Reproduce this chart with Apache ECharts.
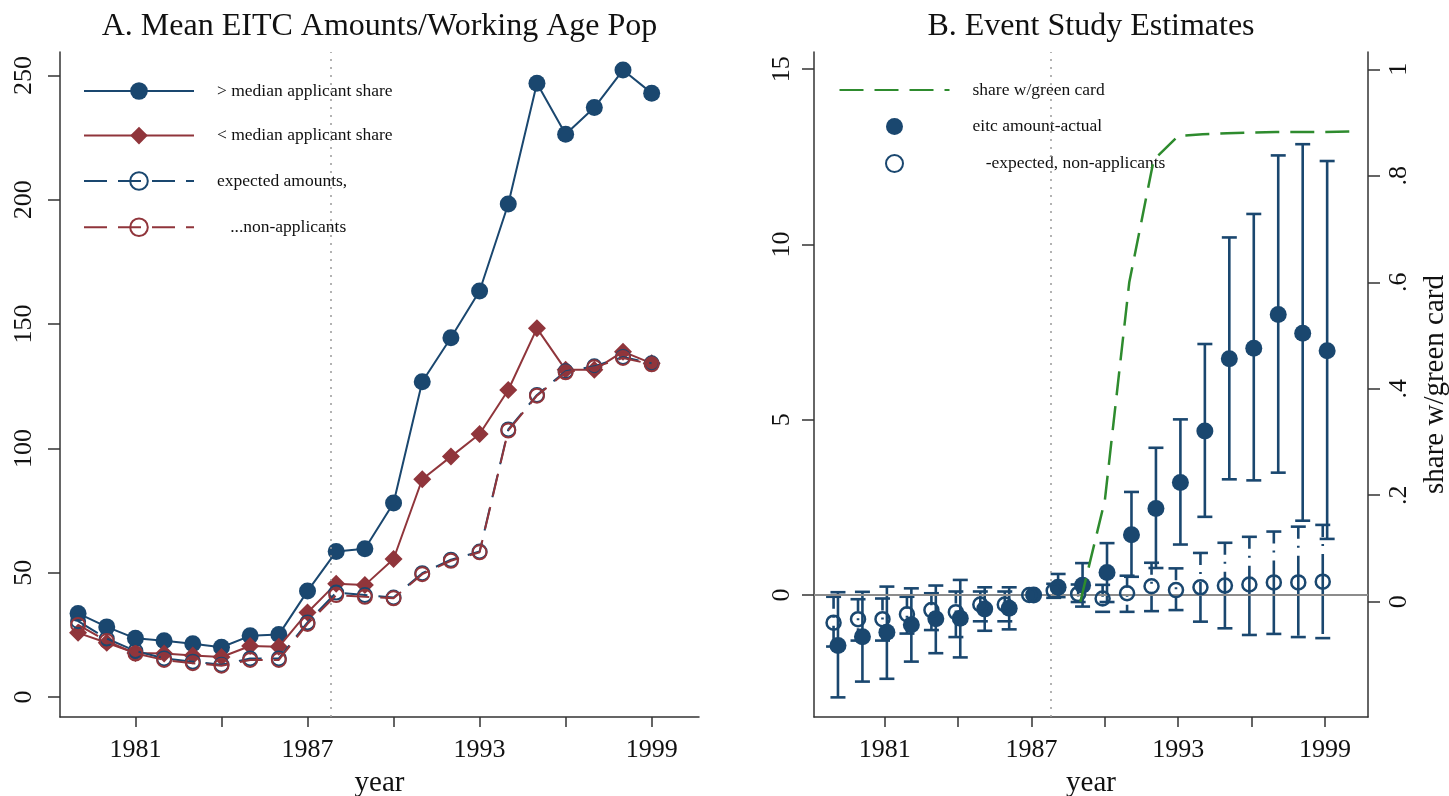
<!DOCTYPE html>
<html>
<head>
<meta charset="utf-8">
<script src="https://cdn.jsdelivr.net/npm/echarts@6/dist/echarts.min.js"></script>
<style>
html,body{margin:0;padding:0;background:#fff;}
#chart{width:1449px;height:796px;}
</style>
</head>
<body>
<div id="chart"></div>
<script>
// ---------- Data ----------
const years = [1979,1980,1981,1982,1983,1984,1985,1986,1987,1988,1989,1990,1991,1992,1993,1994,1995,1996,1997,1998,1999];

// Panel A
const aboveMedian   = [33.6,28.2,23.6,22.6,21.4,20.0,24.6,25.1,42.6,58.5,59.6,78.0,126.8,144.5,163.3,198.3,246.9,226.4,237.1,252.2,242.9];
const belowMedian   = [25.8,21.8,17.7,17.5,16.7,16.1,20.5,20.2,34.0,45.6,45.0,55.5,87.6,96.7,105.8,123.5,148.3,131.6,131.6,138.9,134.2];
const expectedAbove = [30.5,23.5,18.5,15.5,14.2,13.0,15.5,15.5,30.0,42.0,41.0,40.0,49.8,55.2,58.5,107.6,121.5,131.0,133.0,136.8,134.2];
const expectedBelow = [29.0,22.5,17.5,14.9,13.6,12.6,14.9,14.9,29.4,41.0,40.3,39.7,49.4,54.8,58.2,107.2,121.2,130.6,132.6,136.4,133.8];

// Panel B
const actual     = [-1.44,-1.19,-1.06,-0.85,-0.68,-0.66,-0.40,-0.38,0,0.22,0.28,0.64,1.72,2.47,3.21,4.68,6.74,7.04,8.00,7.47,6.97];
const actualLo   = [-2.92,-2.47,-2.39,-1.90,-1.66,-1.78,-1.02,-0.98,null,-0.06,-0.33,-0.20,0.52,0.77,1.44,2.23,3.30,3.27,3.49,2.12,1.60];
const actualHi   = [0.08,0.09,0.24,0.19,0.27,0.43,0.22,0.22,null,0.60,0.91,1.48,2.94,4.20,5.01,7.16,10.20,10.87,12.54,12.86,12.38];
const expectedNA   = [-0.79,-0.69,-0.69,-0.55,-0.43,-0.49,-0.27,-0.27,0,0.12,0.03,-0.10,0.05,0.25,0.14,0.22,0.27,0.30,0.36,0.36,0.38];
const expectedNALo = [-1.47,-1.30,-1.30,-1.10,-1.00,-1.20,-0.75,-0.75,null,-0.08,-0.20,-0.48,-0.48,-0.46,-0.43,-0.76,-0.95,-1.14,-1.11,-1.20,-1.23];
const expectedNAHi = [-0.05,-0.12,-0.10,-0.05,0.05,0.10,0.10,0.10,null,0.32,0.30,0.29,0.55,0.92,0.76,1.20,1.49,1.66,1.81,1.95,2.00];
const greenYears = [1989,1990,1991,1992,1993,1994,1995,1996,1997,1998,1999,2000];
const greenShare = [0.0,0.19,0.60,0.83,0.875,0.878,0.880,0.881,0.882,0.882,0.882,0.883];

const eventYear = 1987.8;

// Ticks / labels
const xTickValues = [1981,1984,1987,1990,1993,1996,1999];
const xTickLabels = [1981,1987,1993,1999];
const leftYTicks  = [0,50,100,150,200,250];
const rightYTicks = [0,5,10,15];
const shareTicks  = [0,0.2,0.4,0.6,0.8,1];
const shareTickLabels = ['0','.2','.4','.6','.8','1'];

// ---------- Style ----------
const NAVY = '#1a476f', MAROON = '#90353b', GREEN = '#2e8b2e';
const FONT = '"Liberation Serif", "Times New Roman", serif';
const AXIS = {color:'#333', width:1.5};

const pairs = (xs, ys, off) => xs.map((x,i) => [x + (off||0), ys[i]]);
const ciRows = (xs, lo, hi, off) => xs.map((x,i) => [x + off, lo[i], hi[i]]).filter(r => r[1] != null && r[2] != null);

function errorBars(color, dash) {
  return function (params, api) {
    const x = api.value(0), lo = api.value(1), hi = api.value(2);
    const top = api.coord([x, hi]);
    const bot = api.coord([x, lo]);
    const half = 7.5;
    const st = {stroke: color, lineWidth: 2.6, fill: null};
    return {type:'group', children:[
      {type:'line', shape:{x1:top[0], y1:top[1], x2:bot[0], y2:bot[1]}, style:Object.assign({lineDash: dash}, st)},
      {type:'line', shape:{x1:top[0]-half, y1:top[1], x2:top[0]+half, y2:top[1]}, style:st},
      {type:'line', shape:{x1:bot[0]-half, y1:bot[1], x2:bot[0]+half, y2:bot[1]}, style:st}
    ]};
  };
}

const xAxisBase = (grid, min, max) => ({
  gridIndex: grid, type:'value', min:min, max:max,
  axisLine:{show:true, onZero:false, lineStyle:AXIS},
  axisTick:{show:true, length:10, lineStyle:AXIS, customValues:xTickValues},
  axisLabel:{customValues:xTickLabels, formatter:v => String(v), fontFamily:FONT, fontSize:26, color:'#111', margin:20},
  splitLine:{show:false},
  name:'year', nameLocation:'middle', nameGap:52,
  nameTextStyle:{fontFamily:FONT, fontSize:29, color:'#111'}
});

const vLine = {
  silent:true, symbol:['none','none'], label:{show:false},
  lineStyle:{color:'#9a9a9a', type:[2,6], width:1.5},
  data:[{xAxis:eventYear}]
};

const option = {
  animation:false,
  backgroundColor:'#fff',
  title:[
    {text:'A. Mean EITC Amounts/Working Age Pop', left:379.5, top:11, textAlign:'center', padding:0,
     textStyle:{fontFamily:FONT, fontSize:32, fontWeight:'normal', color:'#111'}},
    {text:'B. Event Study Estimates', left:1091, top:11, textAlign:'center', padding:0,
     textStyle:{fontFamily:FONT, fontSize:32, fontWeight:'normal', color:'#111'}}
  ],
  legend:[
    {orient:'vertical', left:83, top:82, itemWidth:110, itemHeight:22, itemGap:26.6, selectedMode:false,
     padding:0,
     textStyle:{fontFamily:FONT, fontSize:17.5, color:'#111', padding:[0,0,0,18]},
     data:['> median applicant share','< median applicant share','expected amounts,','   ...non-applicants']},
    {orient:'vertical', left:838.5, top:81, itemWidth:110, itemHeight:17, itemGap:18.5, selectedMode:false,
     padding:0,
     textStyle:{fontFamily:FONT, fontSize:17.5, color:'#111', padding:[0,0,0,18]},
     data:[{name:'share w/green card', itemStyle:{opacity:0}}, 'eitc amount-actual', '   -expected, non-applicants']}
  ],
  grid:[
    {left:60, right:750, top:52, bottom:79, outerBoundsMode:'none', containLabel:false},
    {left:814, right:81, top:52, bottom:79, outerBoundsMode:'none', containLabel:false}
  ],
  xAxis:[ xAxisBase(0, 1978.37, 2000.65), xAxisBase(1, 1978.11, 2000.76) ],
  yAxis:[
    {gridIndex:0, type:'value', min:-8.05, max:259.45,
     axisLine:{show:true, onZero:false, lineStyle:AXIS},
     axisTick:{show:true, length:12, lineStyle:AXIS, customValues:leftYTicks},
     axisLabel:{customValues:leftYTicks, formatter:v => String(v), rotate:90, fontFamily:FONT, fontSize:26, color:'#111', margin:23},
     splitLine:{show:false}},
    {gridIndex:1, type:'value', min:-3.48, max:15.49,
     axisLine:{show:true, onZero:false, lineStyle:AXIS},
     axisTick:{show:true, length:12, lineStyle:AXIS, customValues:rightYTicks},
     axisLabel:{customValues:rightYTicks, formatter:v => String(v), rotate:90, fontFamily:FONT, fontSize:26, color:'#111', margin:19},
     splitLine:{show:false}},
    {gridIndex:1, type:'value', position:'right', min:-0.2166, max:1.0325,
     axisLine:{show:true, onZero:false, lineStyle:AXIS},
     axisTick:{show:true, length:12, lineStyle:AXIS, customValues:shareTicks},
     axisLabel:{customValues:shareTicks, rotate:90, fontFamily:FONT, fontSize:26, color:'#111', margin:18,
       formatter:v => { const i = shareTicks.findIndex(t => Math.abs(t - v) < 1e-6); return i >= 0 ? shareTickLabels[i] : ''; }},
     splitLine:{show:false},
     name:'share w/green card', nameLocation:'middle', nameGap:53,
     nameTextStyle:{fontFamily:FONT, fontSize:29, color:'#111'}}
  ],
  series:[
    // Panel A
    {name:'> median applicant share', type:'line', xAxisIndex:0, yAxisIndex:0,
     data:pairs(years, aboveMedian), symbol:'circle', symbolSize:17,
     lineStyle:{color:NAVY, width:2}, itemStyle:{color:NAVY}, z:3,
     markLine:vLine},
    {name:'< median applicant share', type:'line', xAxisIndex:0, yAxisIndex:0,
     data:pairs(years, belowMedian), symbol:'diamond', symbolSize:18,
     lineStyle:{color:MAROON, width:2}, itemStyle:{color:MAROON}, z:4},
    {name:'expected amounts,', type:'line', xAxisIndex:0, yAxisIndex:0,
     data:pairs(years, expectedAbove), symbol:'circle', symbolSize:14,
     lineStyle:{color:NAVY, width:2, type:[23,11]},
     itemStyle:{color:'rgba(0,0,0,0)', borderColor:NAVY, borderWidth:2}, z:5},
    {name:'   ...non-applicants', type:'line', xAxisIndex:0, yAxisIndex:0,
     data:pairs(years, expectedBelow), symbol:'circle', symbolSize:14,
     lineStyle:{color:MAROON, width:2, type:[23,11]},
     itemStyle:{color:'rgba(0,0,0,0)', borderColor:MAROON, borderWidth:2}, z:6},

    // Panel B
    {name:'share w/green card', type:'line', xAxisIndex:1, yAxisIndex:2,
     data:pairs(greenYears, greenShare), symbol:'none',
     lineStyle:{color:GREEN, width:2.5, type:[24,11]}, itemStyle:{color:GREEN}, z:7},
    {name:'ci-actual', type:'custom', xAxisIndex:1, yAxisIndex:1,
     data:ciRows(years, actualLo, actualHi, 0.09), encode:{x:0, y:[1,2]},
     renderItem:errorBars(NAVY, null), z:3, silent:true},
    {name:'ci-expected', type:'custom', xAxisIndex:1, yAxisIndex:1,
     data:ciRows(years, expectedNALo, expectedNAHi, -0.09), encode:{x:0, y:[1,2]},
     renderItem:errorBars(NAVY, [12,7,2,8,80,7,2,8]), z:3, silent:true},
    {name:'eitc amount-actual', type:'scatter', xAxisIndex:1, yAxisIndex:1,
     data:pairs(years, actual, 0.09), symbol:'circle', symbolSize:17,
     itemStyle:{color:NAVY, opacity:1}, z:5,
     markLine:{silent:true, symbol:['none','none'], label:{show:false},
       data:[{yAxis:0, lineStyle:{color:'#8c8c8c', type:'solid', width:2}},
             {xAxis:eventYear, lineStyle:{color:'#9a9a9a', type:[2,6], width:1.5}}]}},
    {name:'   -expected, non-applicants', type:'scatter', xAxisIndex:1, yAxisIndex:1,
     data:pairs(years, expectedNA, -0.09), symbol:'circle', symbolSize:14,
     itemStyle:{color:'rgba(0,0,0,0)', borderColor:NAVY, borderWidth:2.5, opacity:1}, z:6}
  ]
};

const chart = echarts.init(document.getElementById('chart'), null, {renderer:'canvas'});
chart.setOption(option);
</script>
</body>
</html>
